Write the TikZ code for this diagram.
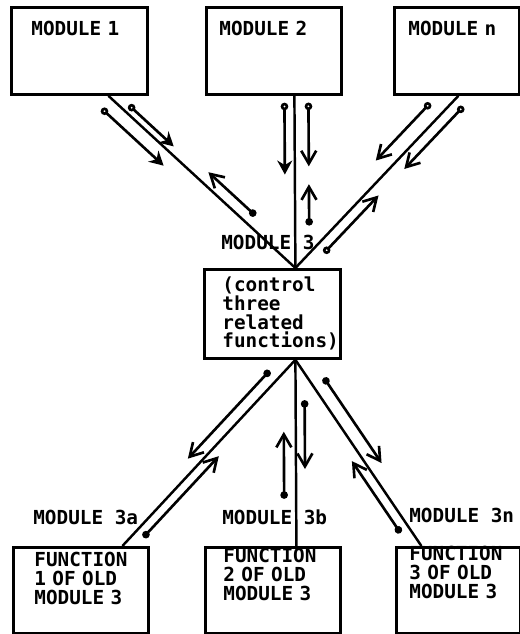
\documentclass[tikz,border=0pt]{standalone}
\usepackage{fontspec}
\newfontfamily\plotfont[HyphenChar=None]{DejaVu Sans Mono}
\usetikzlibrary{positioning,arrows.meta,calc}

\begin{document}
\begin{tikzpicture}[
    module/.style={rectangle,draw,line width=1.6pt,anchor=north west,align=left,inner ysep=0pt,font=\plotfont\bfseries\fontsize{11pt}{10.7pt}\selectfont},
    tag/.style={anchor=base west,inner sep=0pt,font=\plotfont\bfseries\fontsize{11pt}{10.7pt}\selectfont},
    link/.style={line width=1.4pt},
    oarrow/.style={{Circle[open,length=1.5mm]}-{Straight Barb[length=2.6mm,width=3mm]},line width=1.5pt},
    oarrowf/.style={{Circle[open,length=1.5mm]}-{Stealth[length=2.8mm,width=3mm]},line width=1.5pt},
    darrow/.style={{Circle[length=1.5mm]}-{Straight Barb[length=2.6mm,width=3mm]},line width=1.5pt}
]
\useasboundingbox (0,0) rectangle (10.38,12.68);

% Upper modules
\node[module,text width=1.92cm,inner xsep=0.4cm,text height=0.56cm,text depth=1.18cm] (mod-1) at (0.2,12.56) {MODULE 1};
\node[module,text width=2.18cm,inner xsep=0.26cm,text height=0.56cm,text depth=1.18cm] (mod-2) at (4.1,12.56) {MODULE 2};
\node[module,text width=1.94cm,inner xsep=0.28cm,text height=0.56cm,text depth=1.18cm] (mod-n) at (7.86,12.56) {MODULE n};

% Control module
\node[module,text width=2cm,inner xsep=0.36cm,text height=0.44cm,text depth=1.34cm] (mod-3) at (4.06,7.32) {(control\\three\\related\\functions)};
\node[tag] (mod-3-tag) at (4.42,7.68) {MODULE 3};

% Lower modules
\node[module,text width=1.86cm,inner xsep=0.42cm,text height=0.38cm,text depth=1.34cm] (fun-a) at (0.24,1.76) {FUNCTION\\1 OF OLD\\MODULE 3};
\node[module,text width=1.98cm,inner xsep=0.36cm,text height=0.3cm,text depth=1.42cm] (fun-b) at (4.08,1.76) {FUNCTION\\2 OF OLD\\MODULE 3};
\node[module,text width=1.96cm,inner xsep=0.26cm,text height=0.26cm,text depth=1.46cm] (fun-n) at (7.9,1.76) {FUNCTION\\3 OF OLD\\MODULE 3};
\node[tag] (fun-a-tag) at (0.66,2.18) {MODULE 3a};
\node[tag] (fun-b-tag) at (4.44,2.18) {MODULE 3b};
\node[tag] (fun-n-tag) at (8.18,2.22) {MODULE 3n};

% Connection points
\coordinate (mod-1-out) at ([xshift=0.58cm]mod-1.south);
\coordinate (mod-2-out) at ([xshift=0.41cm]mod-2.south);
\coordinate (mod-n-out) at ([xshift=0.03cm]mod-n.south);
\coordinate (mod-3-in) at ([xshift=0.46cm]mod-3.north);
\coordinate (mod-3-out) at ([xshift=0.46cm]mod-3.south);
\coordinate (fun-a-in) at ([xshift=0.83cm]fun-a.north);
\coordinate (fun-b-in) at ([xshift=0.47cm]fun-b.north);
\coordinate (fun-n-in) at ([xshift=-0.74cm]fun-n.north);

% Calls
\draw[link] (mod-1-out) -- (mod-3-in);
\draw[link] (mod-2-out) -- (mod-3-in);
\draw[link] (mod-n-out) -- (mod-3-in);
\draw[link] (mod-3-out) -- (fun-a-in);
\draw[link] (mod-3-out) -- (fun-b-in);
\draw[link] (mod-3-out) -- (fun-n-in);

% Data and control flow, module 1
\draw[oarrowf] ($(mod-1-out)!0.084!(mod-3-in)!0.14cm!90:(mod-3-in)$) -- ($(mod-1-out)!0.324!(mod-3-in)!0.14cm!90:(mod-3-in)$);
\draw[oarrowf] ($(mod-1-out)!0.015!(mod-3-in)!0.28cm!-90:(mod-3-in)$) -- ($(mod-1-out)!0.346!(mod-3-in)!0.28cm!-90:(mod-3-in)$);
\draw[darrow] ($(mod-1-out)!0.745!(mod-3-in)!0.23cm!90:(mod-3-in)$) -- ($(mod-1-out)!0.493!(mod-3-in)!0.23cm!90:(mod-3-in)$);

% Data and control flow, module 2
\draw[oarrowf] ($(mod-2-out)!0.04!(mod-3-in)!0.2cm!-90:(mod-3-in)$) -- ($(mod-2-out)!0.457!(mod-3-in)!0.2cm!-90:(mod-3-in)$);
\draw[oarrow] ($(mod-2-out)!0.04!(mod-3-in)!0.28cm!90:(mod-3-in)$) -- ($(mod-2-out)!0.41!(mod-3-in)!0.28cm!90:(mod-3-in)$);
\draw[darrow] ($(mod-2-out)!0.754!(mod-3-in)!0.28cm!90:(mod-3-in)$) -- ($(mod-2-out)!0.514!(mod-3-in)!0.28cm!90:(mod-3-in)$);

% Data and control flow, module n
\draw[oarrow] ($(mod-n-out)!0.104!(mod-3-in)!0.31cm!-90:(mod-3-in)$) -- ($(mod-n-out)!0.438!(mod-3-in)!0.31cm!-90:(mod-3-in)$);
\draw[oarrow] ($(mod-n-out)!0.019!(mod-3-in)!0.22cm!90:(mod-3-in)$) -- ($(mod-n-out)!0.381!(mod-3-in)!0.22cm!90:(mod-3-in)$);
\draw[oarrow] ($(mod-n-out)!0.871!(mod-3-in)!0.21cm!90:(mod-3-in)$) -- ($(mod-n-out)!0.537!(mod-3-in)!0.21cm!90:(mod-3-in)$);

% Flow to the function modules
\draw[darrow] ($(mod-3-out)!0.1!(fun-a-in)!0.23cm!-90:(fun-a-in)$) -- ($(mod-3-out)!0.573!(fun-a-in)!0.23cm!-90:(fun-a-in)$);
\draw[darrow] ($(mod-3-out)!0.919!(fun-a-in)!0.19cm!90:(fun-a-in)$) -- ($(mod-3-out)!0.483!(fun-a-in)!0.19cm!90:(fun-a-in)$);
\draw[darrow] ($(mod-3-out)!0.217!(fun-b-in)!0.18cm!90:(fun-b-in)$) -- ($(mod-3-out)!0.587!(fun-b-in)!0.18cm!90:(fun-b-in)$);
\draw[darrow] ($(mod-3-out)!0.746!(fun-b-in)!0.24cm!-90:(fun-b-in)$) -- ($(mod-3-out)!0.386!(fun-b-in)!0.24cm!-90:(fun-b-in)$);
\draw[darrow] ($(mod-3-out)!0.137!(fun-n-in)!0.27cm!90:(fun-n-in)$) -- ($(mod-3-out)!0.595!(fun-n-in)!0.27cm!90:(fun-n-in)$);
\draw[darrow] ($(mod-3-out)!0.9!(fun-n-in)!0.2cm!-90:(fun-n-in)$) -- ($(mod-3-out)!0.514!(fun-n-in)!0.2cm!-90:(fun-n-in)$);

\end{tikzpicture}
\end{document}
